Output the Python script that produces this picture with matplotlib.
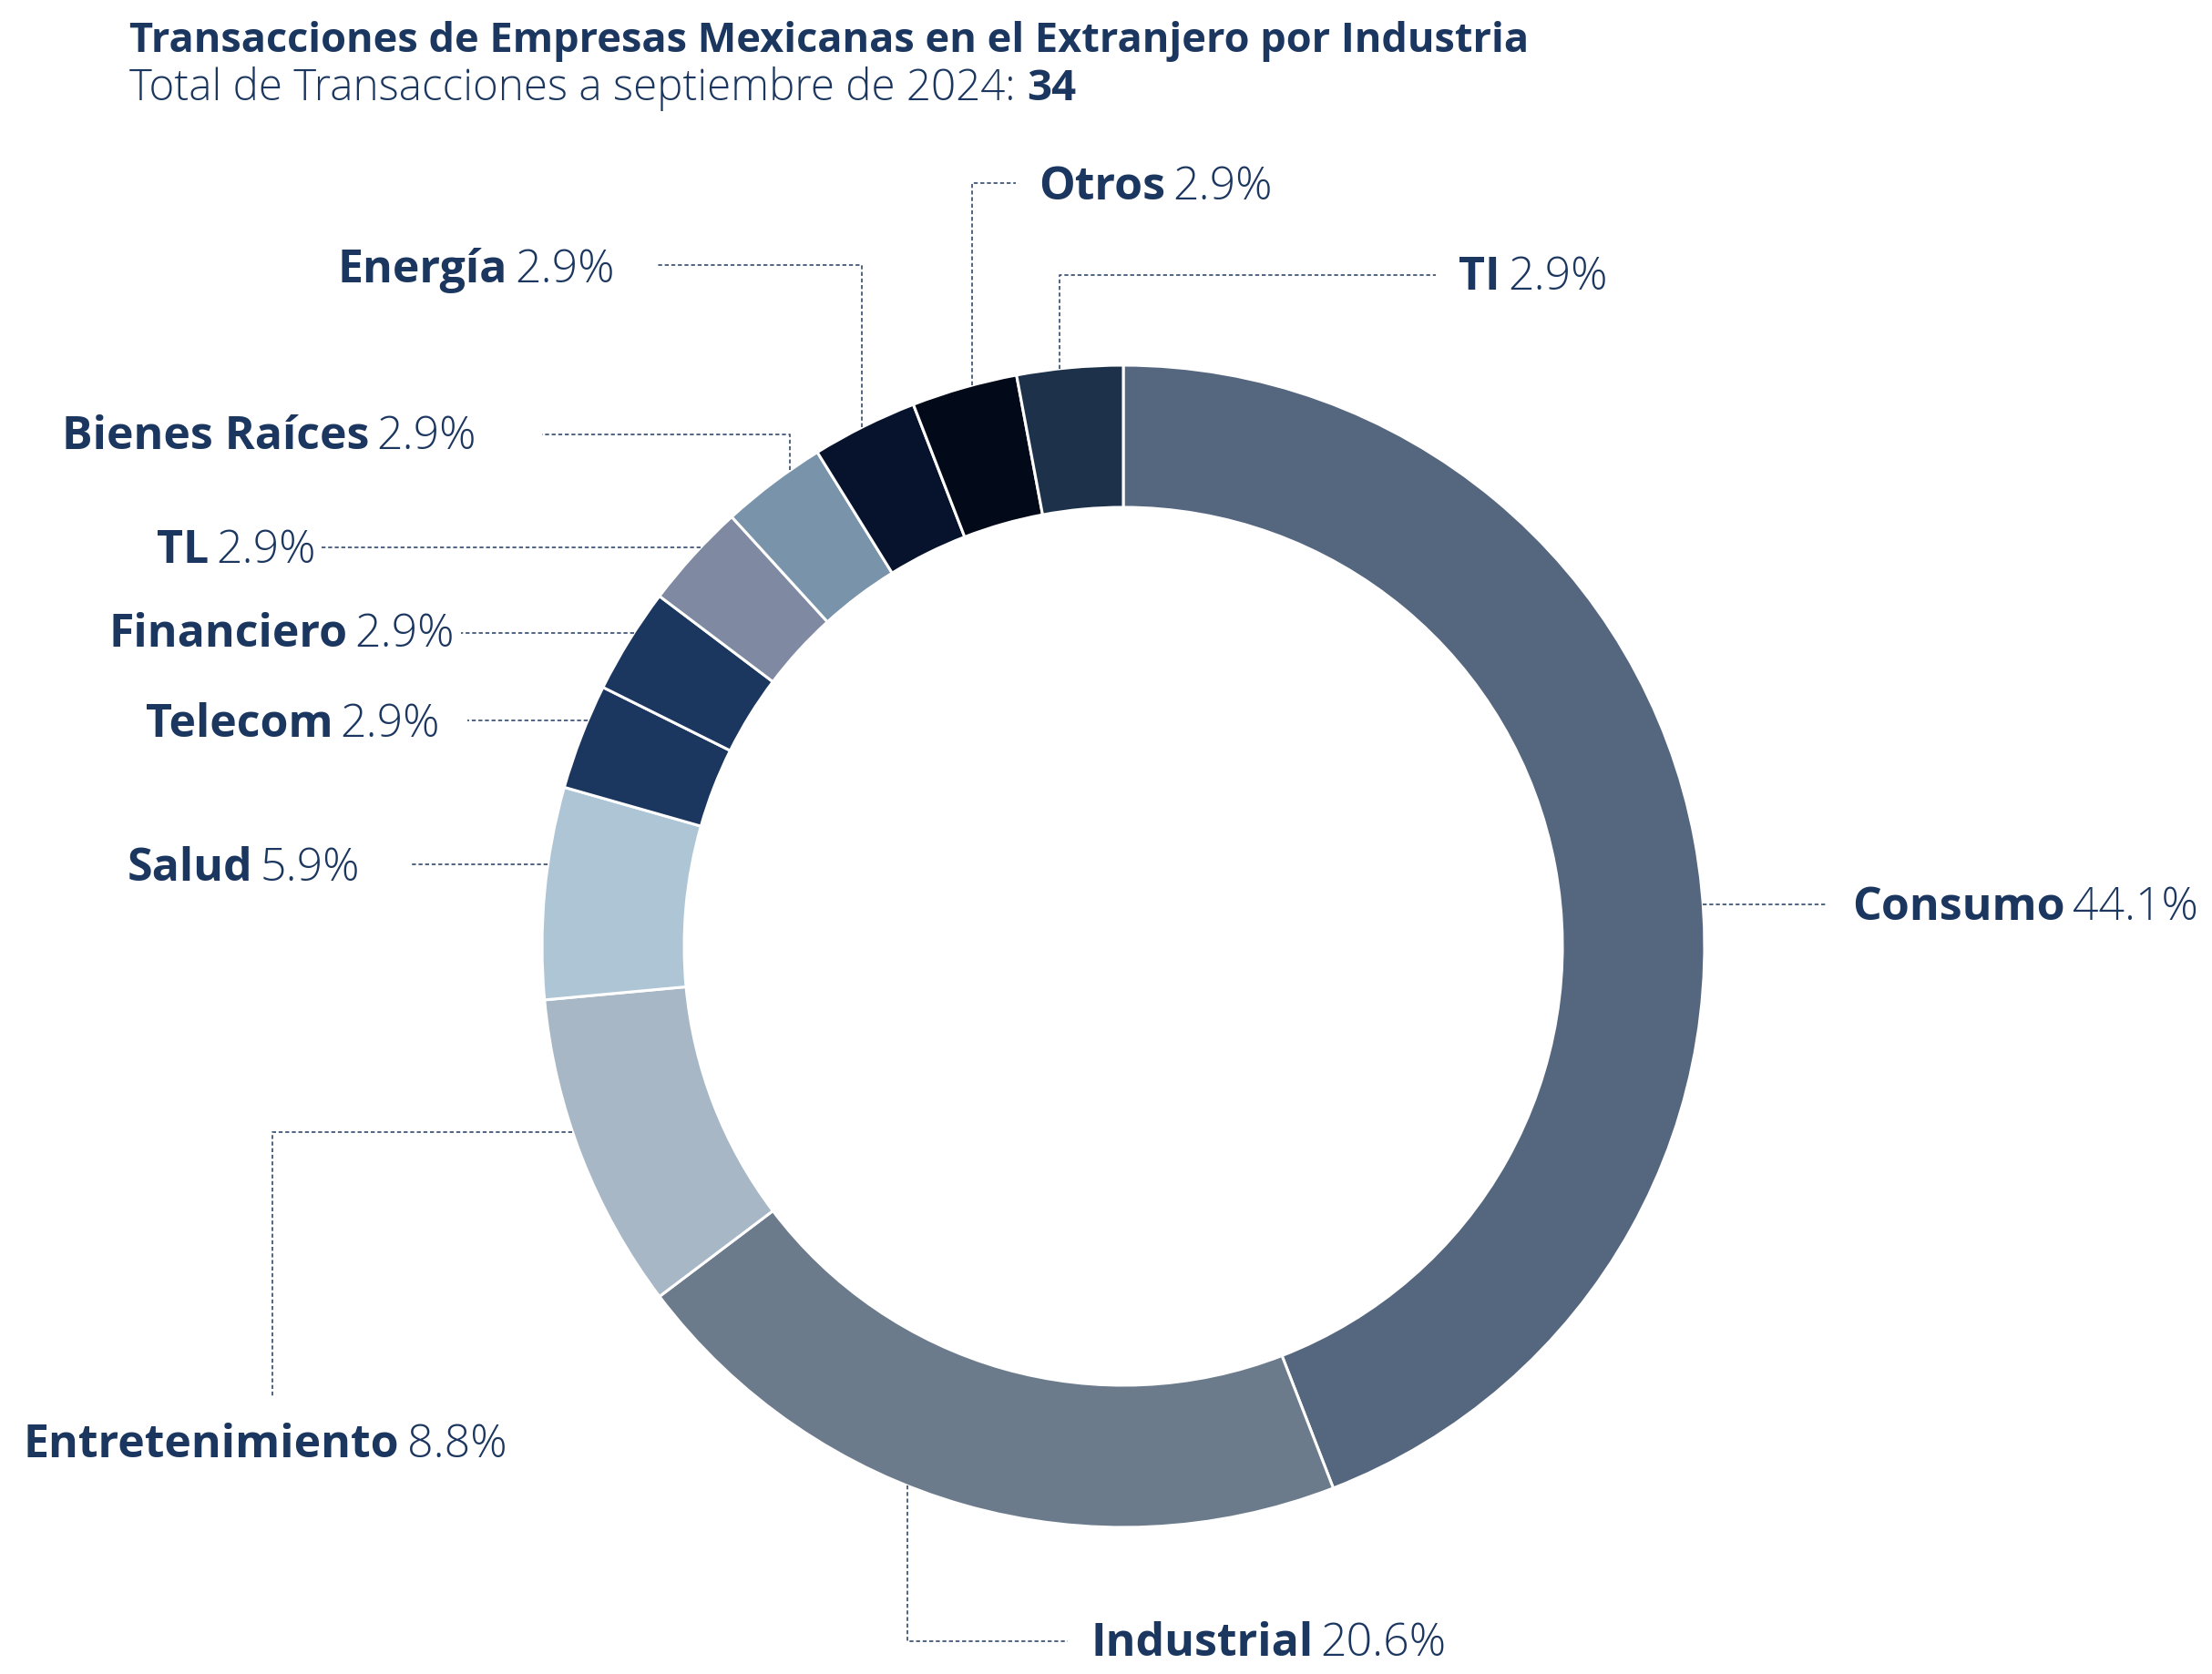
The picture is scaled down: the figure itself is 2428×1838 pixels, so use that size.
import numpy as np
import matplotlib.pyplot as plt

plt.rcParams['font.family'] = ['Open Sans', 'DejaVu Sans']

# datos
industrias = ['Consumo', 'Industrial', 'Entretenimiento', 'Salud', 'Telecom',
              'Financiero', 'TL', 'Bienes Raíces', 'Energía', 'Otros', 'TI']
transacciones = [15, 7, 3, 2, 1, 1, 1, 1, 1, 1, 1]
colores = ['#55667f', '#6b7b8c', '#a7b7c6', '#adc5d5', '#1b365f', '#1b365f',
           '#7f8aa2', '#7993ab', '#07132c', '#020a1a', '#1e314a']

titulo = 'Transacciones de Empresas Mexicanas en el Extranjero por Industria'
subtitulo = 'Total de Transacciones a septiembre de 2024: '

azul = '#1b365f'
gris_linea = '#42587a'

total = sum(transacciones)
pct = [100 * v / total for v in transacciones]

# geometria en pixeles de la figura
W, H = 2428, 1838
cx, cy, R, ancho = 1233, 1039, 638, 156

# etiquetas: (x, y, alineacion) y linea guia
# guia: (tipo, valor, signo, puntos) -> arranca en el circulo en y=valor ('h') o x=valor ('v')
etiquetas = {
    'Consumo':         (2033, 997, 'left',  ('h', 993, +1, [(2005, 993)])),
    'Industrial':      (1197, 1805, 'left', ('v', 996, +1, [(996, 1802), (1172, 1802)])),
    'Entretenimiento': (26, 1587, 'left',   ('h', 1243, -1, [(299, 1243), (299, 1533)])),
    'Salud':           (395, 954, 'right',  ('h', 949, -1, [(452, 949)])),
    'Telecom':         (483, 796, 'right',  ('h', 791, -1, [(513, 791)])),
    'Financiero':      (499, 697, 'right',  ('h', 695, -1, [(506, 695)])),
    'TL':              (347, 605, 'right',  ('h', 601, -1, [(353, 601)])),
    'Bienes Raíces':   (523, 480, 'right',  ('v', 867, -1, [(867, 477), (595, 477)])),
    'Energía':         (675, 297, 'right',  ('v', 946, -1, [(946, 291), (720, 291)])),
    'Otros':           (1140, 206, 'left',  ('v', 1067, -1, [(1067, 201), (1115, 201)])),
    'TI':              (1601, 305, 'left',  ('v', 1163, -1, [(1163, 302), (1576, 302)])),
}

fig = plt.figure(figsize=(W / 100, H / 100), dpi=100)
ax = fig.add_axes([0, 0, 1, 1])

ax.pie(transacciones, colors=colores, startangle=-90, counterclock=True,
       center=(cx, cy), radius=R,
       wedgeprops=dict(width=ancho, edgecolor='white', linewidth=2.2))
ax.set_xlim(0, W)
ax.set_ylim(H, 0)
ax.set_aspect('equal')
ax.axis('off')


def punto_circulo(tipo, val, signo):
    if tipo == 'h':
        return cx + signo * np.sqrt(R**2 - (val - cy)**2), val
    return val, cy + signo * np.sqrt(R**2 - (val - cx)**2)


fs = 36
for nombre, p in zip(industrias, pct):
    x, y, ha, guia = etiquetas[nombre]
    tipo, val, signo, pts = guia
    x0, y0 = punto_circulo(tipo, val, signo)
    xs = [x0] + [q[0] for q in pts]
    ys = [y0] + [q[1] for q in pts]
    ax.plot(xs, ys, color=gris_linea, lw=1.3, ls=(0, (2.4, 1.6)))

    txt_pct = f'{p:.1f}%'
    if ha == 'left':
        t1 = ax.text(x, y, nombre, ha='left', va='center', fontsize=fs,
                     fontweight='bold', color=azul)
        ax.annotate(txt_pct, xy=(1, 0.5), xycoords=t1, xytext=(6, 0),
                    textcoords='offset points', ha='left', va='center',
                    fontsize=fs, fontweight='light', color=azul)
    else:
        t2 = ax.text(x, y, txt_pct, ha='right', va='center', fontsize=fs,
                     fontweight='light', color=azul)
        ax.annotate(nombre, xy=(0, 0.5), xycoords=t2, xytext=(-6, 0),
                    textcoords='offset points', ha='right', va='center',
                    fontsize=fs, fontweight='bold', color=azul)

ax.text(142, 46, titulo, ha='left', va='center', fontsize=32.5,
        fontweight='bold', color=azul)
ts = ax.text(142, 97, subtitulo, ha='left', va='center', fontsize=34.2,
             fontweight='light', color=azul)
ax.annotate(str(total), xy=(1, 0.5), xycoords=ts, xytext=(0, 0),
            textcoords='offset points', ha='left', va='center', fontsize=34.2,
            fontweight='bold', color=azul)

fig.savefig('out.png', dpi=100, facecolor='white')
